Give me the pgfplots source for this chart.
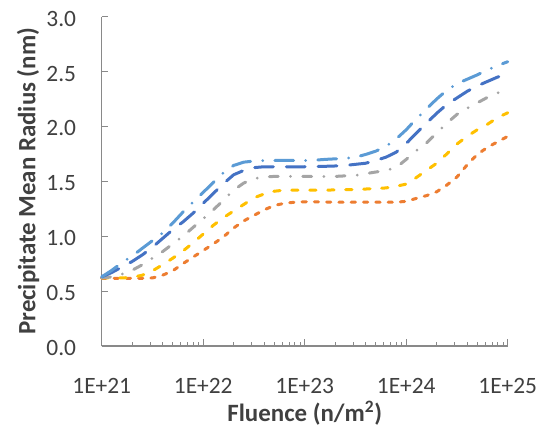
\documentclass[border=0pt]{standalone}
\usepackage{pgfplots}
\usepackage{pgfplotstable}
\pgfplotsset{compat=1.18}
\usepackage{fontspec}
\setmainfont{Carlito}

\definecolor{lblue}{HTML}{5B9BD5}
\definecolor{dblue}{HTML}{4472C4}
\definecolor{sgray}{HTML}{A5A5A5}
\definecolor{gold}{HTML}{FFC000}
\definecolor{orng}{HTML}{ED7D31}
\definecolor{axisgray}{HTML}{898989}
\definecolor{txtgray}{HTML}{404040}

% Precipitate mean radius (nm) versus fluence (n/m^2)
\pgfplotstableread{
x         LB     DB     GR     YE     OR
1e21      0.630  0.630  0.620  0.620  0.617
1.259e21  0.690  0.670  0.630  0.620  0.617
1.585e21  0.760  0.720  0.655  0.620  0.617
1.995e21  0.820  0.770  0.690  0.625  0.617
2.512e21  0.890  0.830  0.740  0.645  0.617
3.162e21  0.960  0.900  0.800  0.685  0.620
3.981e21  1.030  0.980  0.860  0.740  0.645
5.012e21  1.120  1.060  0.930  0.800  0.685
6.310e21  1.220  1.130  1.000  0.865  0.750
7.943e21  1.310  1.210  1.080  0.940  0.810
1e22      1.400  1.300  1.160  1.020  0.870
1.259e22  1.490  1.390  1.240  1.100  0.930
1.585e22  1.580  1.480  1.330  1.170  0.995
1.995e22  1.645  1.560  1.420  1.230  1.075
2.512e22  1.675  1.600  1.485  1.290  1.140
3.162e22  1.685  1.625  1.525  1.350  1.190
3.981e22  1.690  1.633  1.540  1.385  1.240
5.012e22  1.690  1.633  1.545  1.410  1.280
6.310e22  1.690  1.633  1.545  1.420  1.300
7.943e22  1.690  1.633  1.545  1.420  1.310
1e23      1.690  1.633  1.545  1.420  1.314
1.259e23  1.693  1.635  1.545  1.420  1.314
1.585e23  1.700  1.637  1.545  1.420  1.312
1.995e23  1.705  1.640  1.545  1.422  1.310
2.512e23  1.710  1.645  1.550  1.424  1.310
3.162e23  1.720  1.655  1.555  1.425  1.310
3.981e23  1.745  1.665  1.570  1.430  1.310
5.012e23  1.775  1.690  1.585  1.435  1.310
6.310e23  1.820  1.720  1.600  1.440  1.310
7.943e23  1.885  1.765  1.625  1.455  1.310
1e24      1.970  1.845  1.700  1.475  1.318
1.259e24  2.070  1.940  1.780  1.535  1.345
1.585e24  2.160  2.030  1.850  1.600  1.370
1.995e24  2.250  2.120  1.940  1.665  1.405
2.512e24  2.330  2.200  2.030  1.750  1.466
3.162e24  2.390  2.260  2.110  1.840  1.540
3.981e24  2.430  2.320  2.165  1.910  1.650
5.012e24  2.470  2.370  2.215  1.970  1.745
6.310e24  2.515  2.410  2.265  2.020  1.810
7.943e24  2.555  2.450  2.305  2.080  1.860
1e25      2.590  2.480  2.350  2.125  1.910
}\radius

\begin{document}
\begin{tikzpicture}
\useasboundingbox (-101.7bp,-84bp) rectangle (444.3bp,346bp);
\begin{axis}[
  at={(0,0)}, anchor=south west,
  scale only axis, width=406bp, height=329.3bp,
  xmode=log, xmin=1e21, xmax=1e25,
  ymin=0, ymax=3,
  axis lines*=left,
  axis line style={-, draw=axisgray, line width=1.1bp},
  tick align=inside,
  tick style={draw=axisgray, line width=1bp},
  major tick length=6.5bp, minor tick length=4.5bp,
  xtick={1e21,1e22,1e23,1e24,1e25},
  xticklabels={1E+21,1E+22,1E+23,1E+24,1E+25},
  ytick={0,0.5,1,1.5,2,2.5,3},
  /pgf/number format/assume math mode=true,
  tick label style={font=\fontsize{23.5}{28}\selectfont, text=txtgray},
  yticklabel style={anchor=east, inner sep=0pt, xshift=-25.5bp, yshift=-2bp,
    /pgf/number format/fixed, /pgf/number format/fixed zerofill,
    /pgf/number format/precision=1},
  xticklabel style={anchor=base, inner sep=0pt, yshift=-47bp},
  xlabel={Fluence (n/m\textsuperscript{2})},
  ylabel={Precipitate Mean Radius (nm)},
  label style={font=\fontsize{25}{30}\selectfont\bfseries, text=txtgray},
  xlabel style={at={(axis description cs:0.5,-0.2035)}, anchor=center},
  ylabel style={at={(axis description cs:-0.1815,0.5)}, anchor=center},
  clip=false,
  every axis plot/.append style={line width=3bp, line cap=round, no marks},
]
\addplot[orng, dash pattern=on 4.3bp off 8bp] table[x=x, y=OR] {\radius};
\addplot[gold, dash pattern=on 6.4bp off 11.6bp] table[x=x, y=YE] {\radius};
\addplot[sgray, dash pattern=on 8.8bp off 12.3bp on 0bp off 12.3bp] table[x=x, y=GR] {\radius};
\addplot[dblue, dash pattern=on 18.8bp off 12.9bp] table[x=x, y=DB] {\radius};
\addplot[lblue, dash pattern=on 18.8bp off 12.1bp on 0bp off 12.1bp] table[x=x, y=LB] {\radius};
\end{axis}
\end{tikzpicture}
\end{document}
